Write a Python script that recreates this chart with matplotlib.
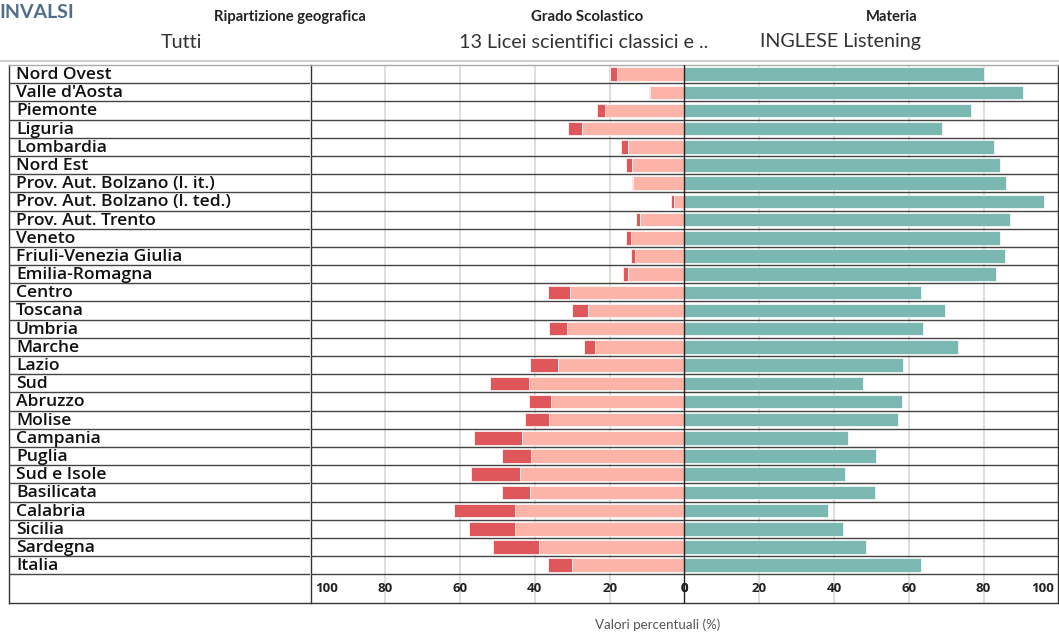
import numpy as np
import matplotlib.pyplot as plt

# dati
regioni = ['Nord Ovest', "Valle d'Aosta", 'Piemonte', 'Liguria', 'Lombardia',
           'Nord Est', 'Prov. Aut. Bolzano (l. it.)', 'Prov. Aut. Bolzano (l. ted.)',
           'Prov. Aut. Trento', 'Veneto', 'Friuli-Venezia Giulia', 'Emilia-Romagna',
           'Centro', 'Toscana', 'Umbria', 'Marche', 'Lazio', 'Sud', 'Abruzzo',
           'Molise', 'Campania', 'Puglia', 'Sud e Isole', 'Basilicata', 'Calabria',
           'Sicilia', 'Sardegna', 'Italia']

# percentuale livello "pre-B1" (rosso scuro) e "B1" (rosa)
livello_1 = [2.0, 0.3, 2.1, 3.7, 1.8, 1.5, 0.3, 0.8, 1.0, 1.3, 1.1, 1.5,
             6.0, 4.3, 4.7, 3.0, 7.5, 10.4, 5.9, 6.4, 12.8, 7.8, 13.1, 7.7,
             16.4, 12.4, 12.3, 6.6]
livello_2 = [18.0, 9.2, 21.3, 27.4, 15.2, 14.0, 13.7, 2.9, 11.9, 14.2, 13.2, 15.0,
             30.6, 25.8, 31.4, 23.8, 33.9, 41.6, 35.7, 36.2, 43.4, 40.9, 43.9, 41.2,
             45.2, 45.2, 38.9, 30.0]
# percentuale B2 (verde)
livello_b2 = [80.0, 90.5, 76.6, 68.9, 82.9, 84.5, 85.9, 96.3, 87.0, 84.5, 85.7, 83.4,
              63.3, 69.8, 63.8, 73.1, 58.4, 47.9, 58.3, 57.2, 43.7, 51.2, 42.9, 51.0,
              38.3, 42.3, 48.7, 63.3]

tick_vals = [100, 80, 60, 40, 20, 0]

W, H = 1059, 636
fig = plt.figure(figsize=(W / 100, H / 100), dpi=100)

n = len(regioni)
y = np.arange(n) + 0.5
ymax = n + 1.58

def box(x0, x1, y0, y1):
    return [x0 / W, 1 - y1 / H, (x1 - x0) / W, (y1 - y0) / H]

ax_lab = fig.add_axes(box(9, 310.5, 65, 603))
ax = fig.add_axes(box(310.5, 1058.3, 65, 603))

for a in (ax_lab, ax):
    a.set_ylim(ymax, 0)
    a.set_xticks([])
    a.set_yticks([])
    for s in a.spines.values():
        s.set_color('#333333')
        s.set_linewidth(1)
    a.spines['top'].set_color('#aaaaaa')
    for k in range(1, n + 1):
        a.axhline(k, color='#444444', lw=1, zorder=3)
ax_lab.spines['right'].set_visible(False)

ax_lab.set_xlim(0, 1)
for yi, r in zip(y, regioni):
    ax_lab.text(0.023, yi + 0.05, r, va='center', ha='left', fontsize=12.6,
                family='Open Sans', weight='semibold', color='#111111')

ax.set_xlim(-100, 100)
for v in [20, 40, 60, 80]:
    ax.axvline(v, color='#d9d9d9', lw=1.2, zorder=0)
    ax.axvline(-v, color='#d9d9d9', lw=1.2, zorder=0)
ax.axvline(0, color='#222222', lw=1, zorder=4)

l1 = np.array(livello_1)
l2 = np.array(livello_2)
hb = 0.74
ax.barh(y, -l2, height=hb, color='#FDB4A8', edgecolor='white', lw=0.5, zorder=2)
ax.barh(y, -l1, left=-l2, height=hb, color='#E0575B', edgecolor='white', lw=0.5, zorder=2)
ax.barh(y, livello_b2, height=hb, color='#7AB8B1', edgecolor='white', lw=0.5, zorder=2)

# etichette asse
ty = n + 0.8
for v in tick_vals:
    if v == 100:
        ha_l, ha_r = 'left', 'right'
        dx = 1.2
    elif v == 0:
        ha_l, ha_r = 'right', 'left'
        dx = 1.1
    else:
        ha_l = ha_r = 'center'
        dx = 0
    ax.text(-v + dx, ty, str(v), ha=ha_l, va='center', fontsize=9.5,
            family='Open Sans', weight='bold', color='#222222')
    ax.text(v - dx, ty, str(v), ha=ha_r, va='center', fontsize=9.5,
            family='Open Sans', weight='bold', color='#222222')

# intestazione
fig.text(-1 / W, 1 - 13 / H, 'INVALSI', fontsize=14, weight='bold', family='Lato',
         color='#4f6d8c', va='center', ha='left')
fig.text(290 / W, 1 - 17 / H, 'Ripartizione geografica', fontsize=10.6, weight='bold',
         family='Lato', ha='center', va='center', color='#222222')
fig.text(587 / W, 1 - 17 / H, 'Grado Scolastico', fontsize=10.8, weight='bold',
         family='Lato', ha='center', va='center', color='#222222')
fig.text(918 / W, 1 - 17 / H, 'Materia', fontsize=10.6, weight='bold',
         family='Lato', ha='right', va='center', color='#222222')
fig.text(161 / W, 1 - 42 / H, 'Tutti', fontsize=14.2, family='Lato',
         ha='left', va='center', color='#333333')
fig.text(459 / W, 1 - 42 / H, '13 Licei scientifici classici e ..', fontsize=14.2,
         family='Lato', ha='left', va='center', color='#333333')
fig.text(760 / W, 1 - 42 / H, 'INGLESE Listening', fontsize=14.2, family='Lato',
         ha='left', va='center', color='#333333')
fig.add_artist(plt.Line2D([0, 1], [1 - 61 / H, 1 - 61 / H], color='#d0d0d0', lw=1.5))

fig.text(658 / W, 1 - 625 / H, 'Valori percentuali (%)', fontsize=9.6, family='Lato',
         ha='center', va='center', color='#555555')

fig.savefig('out.png', dpi=100)
